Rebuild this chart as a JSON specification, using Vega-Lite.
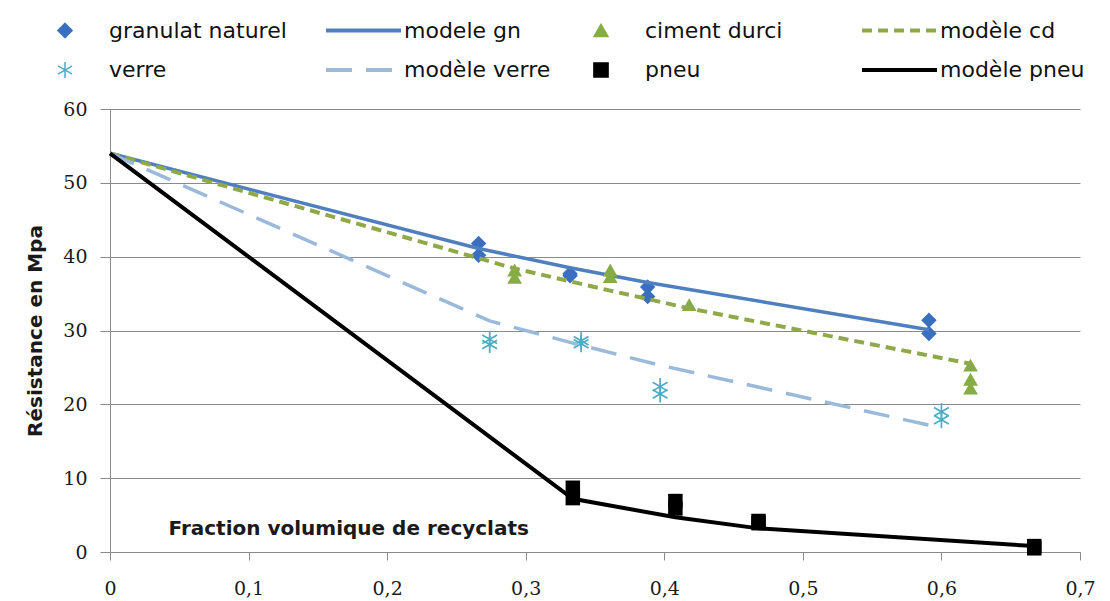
{
  "$schema": "https://vega.github.io/schema/vega-lite/v6.json",
  "width": 970,
  "height": 443,
  "autosize": {"type": "none"},
  "padding": {"left": 110, "top": 109, "right": 30, "bottom": 49},
  "background": "white",
  "config": {
    "view": {"stroke": null},
    "axis": {
      "labelFont": "DejaVu Serif",
      "labelFontSize": 19,
      "labelColor": "#1a1a1a",
      "titleFont": "DejaVu Sans",
      "titleFontWeight": "bold",
      "titleFontSize": 20,
      "titleColor": "#1a1a1a",
      "domainColor": "#8a8a8a",
      "tickColor": "#8a8a8a",
      "gridColor": "#8a8a8a",
      "labelFlush": false,
      "labelOverlap": false
    }
  },
  "datasets": {
    "gn": [
      {"x": 0.266, "y": 41.8, "series": "granulat naturel"},
      {"x": 0.266, "y": 40.2, "series": "granulat naturel"},
      {"x": 0.332, "y": 37.7, "series": "granulat naturel"},
      {"x": 0.332, "y": 37.4, "series": "granulat naturel"},
      {"x": 0.388, "y": 35.9, "series": "granulat naturel"},
      {"x": 0.388, "y": 34.6, "series": "granulat naturel"},
      {"x": 0.591, "y": 31.4, "series": "granulat naturel"},
      {"x": 0.591, "y": 29.6, "series": "granulat naturel"}
    ],
    "m_gn": [
      {"x": 0, "y": 54, "series": "modele gn"},
      {"x": 0.266, "y": 41.1, "series": "modele gn"},
      {"x": 0.332, "y": 38.5, "series": "modele gn"},
      {"x": 0.388, "y": 36.5, "series": "modele gn"},
      {"x": 0.591, "y": 30.1, "series": "modele gn"}
    ],
    "cd": [
      {"x": 0.292, "y": 38.2, "series": "ciment durci"},
      {"x": 0.292, "y": 37.2, "series": "ciment durci"},
      {"x": 0.361, "y": 38.2, "series": "ciment durci"},
      {"x": 0.361, "y": 37.3, "series": "ciment durci"},
      {"x": 0.418, "y": 33.5, "series": "ciment durci"},
      {"x": 0.621, "y": 25.3, "series": "ciment durci"},
      {"x": 0.621, "y": 23.4, "series": "ciment durci"},
      {"x": 0.621, "y": 22.2, "series": "ciment durci"}
    ],
    "m_cd": [
      {"x": 0, "y": 54, "series": "modèle cd"},
      {"x": 0.292, "y": 38.4, "series": "modèle cd"},
      {"x": 0.361, "y": 35.4, "series": "modèle cd"},
      {"x": 0.418, "y": 33.0, "series": "modèle cd"},
      {"x": 0.621, "y": 25.5, "series": "modèle cd"}
    ],
    "verre": [
      {"x": 0.274, "y": 28.8, "series": "verre"},
      {"x": 0.274, "y": 28.1, "series": "verre"},
      {"x": 0.340, "y": 28.6, "series": "verre"},
      {"x": 0.340, "y": 28.2, "series": "verre"},
      {"x": 0.397, "y": 22.4, "series": "verre"},
      {"x": 0.397, "y": 21.4, "series": "verre"},
      {"x": 0.600, "y": 19.0, "series": "verre"},
      {"x": 0.600, "y": 17.9, "series": "verre"}
    ],
    "m_verre": [
      {"x": 0, "y": 54, "series": "modèle verre"},
      {"x": 0.274, "y": 31.3, "series": "modèle verre"},
      {"x": 0.340, "y": 28.0, "series": "modèle verre"},
      {"x": 0.397, "y": 25.3, "series": "modèle verre"},
      {"x": 0.600, "y": 16.8, "series": "modèle verre"}
    ],
    "pneu": [
      {"x": 0.334, "y": 8.7, "series": "pneu"},
      {"x": 0.334, "y": 7.3, "series": "pneu"},
      {"x": 0.408, "y": 6.9, "series": "pneu"},
      {"x": 0.408, "y": 5.9, "series": "pneu"},
      {"x": 0.468, "y": 4.2, "series": "pneu"},
      {"x": 0.468, "y": 3.9, "series": "pneu"},
      {"x": 0.667, "y": 0.8, "series": "pneu"},
      {"x": 0.667, "y": 0.5, "series": "pneu"}
    ],
    "m_pneu": [
      {"x": 0, "y": 54, "series": "modèle pneu"},
      {"x": 0.334, "y": 7.2, "series": "modèle pneu"},
      {"x": 0.408, "y": 4.7, "series": "modèle pneu"},
      {"x": 0.468, "y": 3.2, "series": "modèle pneu"},
      {"x": 0.667, "y": 0.8, "series": "modèle pneu"}
    ]
  },
  "encoding": {
    "x": {
      "field": "x", "type": "quantitative",
      "scale": {"domain": [0, 0.7], "nice": false},
      "axis": {
        "values": [0, 0.1, 0.2, 0.3, 0.4, 0.5, 0.6, 0.7],
        "format": ".1~f",
        "labelExpr": "replace(datum.label, '.', ',')",
        "grid": false,
        "tickSize": 8,
        "labelPadding": 19,
        "title": "Fraction volumique de recyclats",
        "titleX": 58,
        "titleY": -18,
        "titleAlign": "left",
        "titleBaseline": "alphabetic",
        "titleAngle": 0
      }
    },
    "y": {
      "field": "y", "type": "quantitative",
      "scale": {"domain": [0, 60], "nice": false},
      "axis": {
        "values": [0, 10, 20, 30, 40, 50, 60],
        "grid": true,
        "tickSize": 10,
        "labelPadding": 13,
        "title": "Résistance en Mpa",
        "titleX": -75,
        "titleY": 221.5,
        "titleAngle": -90,
        "titleAlign": "center",
        "titleBaseline": "middle"
      }
    },
    "color": {
      "field": "series", "type": "nominal",
      "scale": {
        "domain": ["granulat naturel", "modele gn", "ciment durci", "modèle cd", "verre", "modèle verre", "pneu", "modèle pneu"],
        "range": ["#3a6fbf", "#4f7fbf", "#86ad45", "#8fa84a", "#4bacc6", "#9ab9db", "#000000", "#000000"]
      },
      "legend": {
        "title": null,
        "orient": "none",
        "direction": "horizontal",
        "legendX": -52,
        "legendY": -90,
        "columns": 4,
        "gridAlign": "all",
        "columnPadding": 31,
        "rowPadding": 16,
        "labelFont": "DejaVu Sans",
        "labelFontSize": 22,
        "labelColor": "#111111",
        "labelLimit": 400,
        "symbolSize": 190,
        "encode": {
          "symbols": {
            "update": {
              "shape": {"signal": "datum.value == 'granulat naturel' ? 'diamond' : datum.value == 'ciment durci' ? 'triangle-up' : datum.value == 'verre' ? 'M0,-1L0,1M-0.87,-0.5L0.87,0.5M-0.87,0.5L0.87,-0.5' : datum.value == 'pneu' ? 'square' : 'stroke'"},
              "size": {"signal": "(datum.value == 'modele gn' || datum.value == 'modèle cd' || datum.value == 'modèle verre' || datum.value == 'modèle pneu') ? 5625 : datum.value == 'verre' ? 260 : 200"},
              "x": {"signal": "(datum.value == 'modele gn' || datum.value == 'modèle cd' || datum.value == 'modèle verre' || datum.value == 'modèle pneu') ? 37.5 : 7"},
              "fill": {"signal": "datum.value == 'granulat naturel' ? '#3a6fbf' : datum.value == 'ciment durci' ? '#86ad45' : datum.value == 'pneu' ? '#000000' : 'transparent'"},
              "stroke": {"signal": "datum.value == 'granulat naturel' ? '#3a6fbf' : datum.value == 'modele gn' ? '#4f7fbf' : datum.value == 'ciment durci' ? '#86ad45' : datum.value == 'modèle cd' ? '#8fa84a' : datum.value == 'verre' ? '#4bacc6' : datum.value == 'modèle verre' ? '#9ab9db' : '#000000'"},
              "strokeWidth": {"signal": "(datum.value == 'modele gn' || datum.value == 'modèle cd' || datum.value == 'modèle verre' || datum.value == 'modèle pneu') ? 4 : 1.5"},
              "strokeDash": {"signal": "datum.value == 'modèle cd' ? [10, 6] : datum.value == 'modèle verre' ? [26, 14] : [1, 0]"},
              "opacity": {"value": 1}
            }
          },
          "labels": {
            "update": {
              "x": {"signal": "(datum.value == 'modele gn' || datum.value == 'modèle cd' || datum.value == 'modèle verre' || datum.value == 'modèle pneu') ? 78 : 51"}
            }
          }
        }
      }
    }
  },
  "layer": [
    {"data": {"name": "gn"}, "mark": {"type": "point", "shape": "diamond", "filled": true, "size": 240, "opacity": 1, "strokeWidth": 1}},
    {"data": {"name": "m_gn"}, "mark": {"type": "line", "strokeWidth": 3.5}},
    {"data": {"name": "cd"}, "mark": {"type": "point", "shape": "triangle-up", "filled": true, "size": 220, "opacity": 1}},
    {"data": {"name": "m_cd"}, "mark": {"type": "line", "strokeWidth": 4, "strokeDash": [10, 6]}},
    {"data": {"name": "verre"}, "mark": {"type": "point", "shape": "M0,-1L0,1M-0.87,-0.5L0.87,0.5M-0.87,0.5L0.87,-0.5", "filled": false, "size": 290, "opacity": 1, "strokeWidth": 1.7}},
    {"data": {"name": "m_verre"}, "mark": {"type": "line", "strokeWidth": 3.5, "strokeDash": [26, 14]}},
    {"data": {"name": "pneu"}, "mark": {"type": "point", "shape": "square", "filled": true, "size": 210, "opacity": 1}},
    {"data": {"name": "m_pneu"}, "mark": {"type": "line", "strokeWidth": 4}}
  ]
}
